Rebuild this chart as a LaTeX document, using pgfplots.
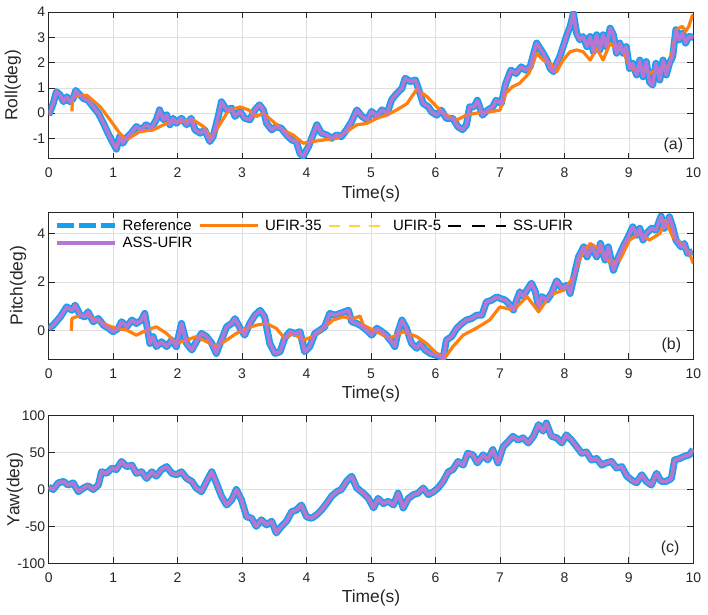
\documentclass[border=0pt]{standalone}
\usepackage{fontspec}
\setmainfont{Liberation Sans}
\usepackage{pgfplots}
\usepackage{pgfplotstable}
\pgfplotsset{compat=1.18}

\definecolor{refblue}{RGB}{22,160,240}
\definecolor{ufirorange}{RGB}{255,128,14}
\definecolor{ufiryellow}{RGB}{255,215,60}
\definecolor{asspurple}{RGB}{182,118,212}
\definecolor{axgray}{RGB}{38,38,38}
\definecolor{gridgray}{RGB}{223,223,223}

% ---------- Roll ----------
\pgfplotstableread{
t v
0 -0.07
0.07 0.38
0.12 0.85
0.18 0.71
0.23 0.45
0.28 0.65
0.33 0.45
0.38 0.58
0.42 0.9
0.46 0.78
0.54 0.58
0.61 0.51
0.69 0.25
0.77 0
0.85 -0.4
0.92 -0.79
1.0 -1.19
1.05 -1.42
1.1 -0.93
1.15 -1.19
1.2 -0.99
1.28 -0.79
1.36 -0.53
1.44 -0.66
1.51 -0.46
1.59 -0.6
1.67 -0.26
1.72 0.13
1.78 -0.26
1.83 -0.07
1.88 -0.46
1.93 -0.2
1.98 -0.4
2.06 -0.2
2.14 -0.46
2.21 -0.2
2.27 -0.66
2.35 -0.79
2.42 -0.66
2.5 -1.12
2.55 -0.93
2.63 -0.13
2.68 0.45
2.76 0.13
2.84 0.2
2.89 -0.13
2.97 0.07
3.04 -0.2
3.12 -0.26
3.2 0.13
3.27 0.33
3.33 0.13
3.38 -0.4
3.46 -0.66
3.53 -0.53
3.61 -0.6
3.69 -0.86
3.77 -1.06
3.84 -1.12
3.9 -1.6
3.95 -1.7
4.03 -1.32
4.1 -0.86
4.16 -0.46
4.23 -0.79
4.31 -0.86
4.39 -0.99
4.47 -0.86
4.54 -0.93
4.62 -0.66
4.7 -0.33
4.78 0.13
4.86 -0.13
4.94 -0.26
5.01 0.07
5.09 -0.13
5.17 0.13
5.25 0
5.32 0.53
5.4 0.78
5.48 0.98
5.53 1.38
5.61 1.25
5.69 1.31
5.76 0.78
5.81 0.38
5.89 0.25
5.94 0.05
6.02 -0.08
6.09 0.12
6.17 -0.21
6.27 -0.21
6.35 -0.54
6.42 -0.65
6.48 -0.47
6.53 0.25
6.6 0.25
6.65 0.51
6.73 -0.08
6.81 0.12
6.89 0.25
6.94 0.51
7.02 0.38
7.09 1.17
7.17 1.7
7.25 1.57
7.33 1.83
7.4 1.7
7.47 1.84
7.53 2.42
7.57 2.77
7.62 2.57
7.67 2.37
7.73 2.1
7.78 1.77
7.83 1.64
7.88 1.97
7.93 2.24
7.98 2.63
8.04 3.1
8.09 3.43
8.14 3.95
8.19 3.16
8.24 2.9
8.29 3.03
8.35 2.63
8.4 3.03
8.45 2.43
8.5 3.1
8.55 2.5
8.6 3.1
8.65 2.63
8.71 3.36
8.76 3.1
8.81 2.37
8.86 2.77
8.91 2.37
8.96 2.63
9.01 1.77
9.06 1.97
9.12 1.51
9.17 2.1
9.22 1.44
9.27 2.04
9.32 1.24
9.37 1.11
9.42 1.97
9.48 1.31
9.53 2.1
9.58 1.51
9.63 1.97
9.68 2.24
9.73 3.3
9.78 2.9
9.83 3.16
9.88 2.77
9.93 3.03
10 3.0
}\rollref

\pgfplotstableread{
t v
0.36 0.07
0.37 0.65
0.59 0.71
0.8 0.25
0.95 -0.26
1.1 -0.79
1.2 -1.06
1.41 -0.73
1.62 -0.66
1.83 -0.4
2.03 -0.33
2.24 -0.26
2.4 -0.53
2.52 -0.99
2.65 -0.46
2.78 0.07
2.91 0.2
2.97 0.25
3.1 0.13
3.22 -0.13
3.33 0
3.48 -0.33
3.63 -0.66
3.79 -0.86
3.95 -1.19
4.1 -1.12
4.26 -1.06
4.47 -0.99
4.62 -0.73
4.78 -0.46
4.94 -0.4
5.09 -0.2
5.25 -0.07
5.4 0.13
5.56 0.38
5.71 0.95
5.87 0.65
6.02 0.25
6.17 -0.08
6.32 -0.28
6.48 -0.08
6.63 0
6.84 0.05
7.0 0.12
7.09 0.78
7.19 1.04
7.3 1.17
7.45 1.57
7.57 2.37
7.67 2.1
7.78 1.97
7.88 1.64
7.98 2.1
8.09 2.43
8.19 2.5
8.29 2.43
8.4 2.1
8.5 2.57
8.6 2.1
8.71 2.77
8.81 2.5
8.91 2.5
9.01 1.84
9.12 1.64
9.22 1.77
9.32 1.57
9.42 1.7
9.53 1.77
9.63 1.9
9.68 2.5
9.73 3.3
9.83 3.43
9.88 3.23
9.93 3.43
9.98 3.82
10 3.9
}\rollfir

% ---------- Pitch ----------
\pgfplotstableread{
t v
0 0.1
0.07 0.23
0.18 0.57
0.28 0.98
0.36 0.84
0.41 1.05
0.49 0.64
0.56 0.57
0.61 0.78
0.69 0.37
0.77 0.5
0.85 0.23
0.93 0.1
1.0 -0.04
1.08 0.1
1.13 0.37
1.21 0.16
1.29 0.44
1.36 0.3
1.44 0.44
1.49 0.71
1.57 -0.52
1.62 -0.24
1.67 -0.65
1.75 -0.45
1.83 -0.65
1.91 -0.38
1.98 -0.65
2.06 0.3
2.14 -0.52
2.22 -0.79
2.29 -0.45
2.37 -0.11
2.45 -0.24
2.53 -0.52
2.6 -0.93
2.68 -0.38
2.76 0.16
2.84 0.3
2.89 0.5
2.97 0.1
3.04 -0.18
3.12 0.3
3.2 0.64
3.28 0.84
3.35 0.57
3.43 -0.52
3.51 -0.93
3.59 -0.86
3.66 -0.31
3.74 -0.04
3.82 -0.11
3.9 -0.04
3.97 -0.86
4.05 -0.65
4.13 -0.11
4.21 0.03
4.28 0.16
4.36 0.71
4.44 0.64
4.52 0.71
4.59 0.78
4.65 0.84
4.7 0.37
4.78 0.3
4.85 0.2
4.93 0.03
5.01 -0.18
5.09 0.1
5.17 -0.04
5.24 -0.18
5.32 -0.45
5.37 -0.65
5.42 -0.04
5.48 0.44
5.55 0.1
5.63 -0.52
5.71 -0.72
5.76 -0.52
5.84 -0.79
5.92 -0.93
5.99 -0.99
6.07 -1.06
6.12 -1.13
6.17 -0.38
6.25 -0.24
6.33 0.1
6.41 0.3
6.48 0.44
6.56 0.5
6.64 0.64
6.72 0.64
6.79 1.18
6.87 1.25
6.95 1.39
7.0 1.33
7.08 1.26
7.16 1.05
7.21 0.85
7.26 1.26
7.31 1.6
7.36 1.4
7.42 1.67
7.49 1.95
7.55 1.6
7.6 0.98
7.65 1.4
7.73 1.26
7.8 1.53
7.88 2.05
7.96 1.74
8.04 1.87
8.09 1.53
8.17 2.48
8.22 3.03
8.3 3.44
8.35 3.03
8.43 3.44
8.5 3.03
8.56 3.58
8.63 2.9
8.68 3.44
8.76 2.48
8.84 3.03
8.91 3.44
8.99 3.85
9.06 4.26
9.12 3.92
9.17 4.2
9.22 3.72
9.27 3.99
9.35 4.2
9.42 4.13
9.5 4.7
9.55 4.2
9.63 4.67
9.68 4.26
9.73 3.72
9.81 3.44
9.86 3.58
9.91 3.17
9.99 3.24
}\pitchref

\pgfplotstableread{
t v
0.35 0
0.36 0.5
0.49 0.64
0.59 0.64
0.74 0.44
0.9 0.23
1.05 0.1
1.21 0.03
1.36 -0.18
1.52 0.03
1.67 0.16
1.83 -0.11
1.98 -0.52
2.14 -0.38
2.29 -0.24
2.45 -0.45
2.6 -0.65
2.76 -0.38
2.91 -0.11
3.07 0.1
3.22 0.23
3.38 0.3
3.53 0.1
3.66 -0.31
3.79 -0.11
3.95 -0.38
4.1 -0.24
4.26 0.1
4.41 0.44
4.57 0.57
4.72 0.5
4.83 0.6
4.88 0.23
5.09 -0.04
5.29 -0.31
5.5 -0.04
5.71 -0.24
5.86 -0.52
6.02 -0.93
6.14 -1.13
6.27 -0.65
6.43 -0.18
6.63 0.1
6.84 0.44
7.0 0.98
7.21 0.85
7.42 1.4
7.6 0.78
7.78 1.47
7.99 1.67
8.14 2.2
8.25 3.03
8.4 3.58
8.56 3.3
8.71 2.76
8.86 2.9
9.01 3.72
9.17 3.99
9.32 3.72
9.48 3.99
9.57 4.54
9.68 3.85
9.81 3.58
9.94 3.17
10 2.76
}\pitchfir

% ---------- Yaw ----------
\pgfplotstableread{
t v
0 3
0.07 0
0.15 9
0.23 11
0.3 6
0.38 9
0.46 -3
0.54 2
0.61 5
0.69 0
0.77 6
0.82 24
0.9 22
0.98 29
1.05 27
1.13 38
1.21 31
1.29 33
1.36 22
1.44 24
1.52 15
1.6 24
1.67 18
1.75 27
1.83 31
1.91 22
1.98 20
2.06 24
2.14 15
2.22 11
2.29 2
2.37 -3
2.45 11
2.53 24
2.6 9
2.68 -9
2.76 -21
2.84 -14
2.91 0
2.99 -14
3.07 -37
3.15 -39
3.22 -50
3.3 -41
3.38 -48
3.46 -43
3.53 -59
3.61 -50
3.69 -43
3.77 -30
3.84 -28
3.92 -21
4.0 -37
4.08 -39
4.16 -34
4.23 -28
4.31 -19
4.39 -9
4.47 -3
4.54 0
4.62 11
4.7 18
4.78 2
4.88 -5
4.96 -12
5.04 -25
5.11 -12
5.19 -19
5.27 -16
5.35 -21
5.42 -5
5.5 -25
5.58 -12
5.66 -7
5.73 -5
5.81 2
5.89 -7
5.97 -3
6.04 2
6.12 11
6.2 24
6.27 27
6.35 38
6.43 33
6.5 49
6.58 47
6.65 36
6.74 47
6.81 40
6.89 54
6.97 36
7.05 58
7.13 65
7.2 72
7.28 67
7.36 70
7.44 63
7.52 72
7.6 88
7.67 79
7.72 90
7.8 72
7.88 70
7.96 63
8.03 74
8.11 67
8.19 58
8.27 49
8.34 51
8.42 40
8.5 42
8.58 33
8.65 36
8.73 38
8.81 29
8.89 31
8.97 18
9.04 13
9.12 9
9.2 20
9.27 11
9.35 6
9.43 22
9.5 11
9.58 11
9.66 15
9.71 40
9.79 42
9.86 45
9.94 47
10 54
}\yawref

\pgfplotsset{
  panel/.style={
    scale only axis, width=644.6bp,
    xmin=0, xmax=10, xtick={0,...,10},
    grid=major, major grid style={gridgray, line width=0.6bp},
    axis line style={axgray, line width=0.7bp},
    every tick/.style={axgray, line width=0.7bp},
    tick align=inside, tick pos=both, major tick length=6bp,
    ticklabel style={font=\fontsize{14}{14}\selectfont, text=axgray},
    xticklabel style={anchor=center, yshift=-14bp},
    /pgf/number format/assume math mode=true,
    label style={font=\fontsize{17.5}{17.5}\selectfont, text=axgray},
    xlabel={Time(s)},
    xlabel style={at={(axis description cs:0.5,0)}, anchor=center, yshift=-35bp},
    legend image code/.code={\draw[#1] (0bp,0bp) -- (58bp,0bp);},
  },
  refline/.style={refblue, line width=7bp, line join=round},
  firline/.style={ufirorange, line width=3.2bp, line join=round},
  fiveline/.style={ufiryellow, line width=2bp, line join=round},
  ssline/.style={black, line width=2bp, line join=round},
  assline/.style={asspurple, line width=3.5bp, line join=round},
}

\begin{document}
\begin{tikzpicture}
\path[use as bounding box] (0bp,0bp) rectangle (708bp,615bp);

% (a) roll
\begin{axis}[panel, at={(48.7bp,456.3bp)}, anchor=south west, height=146.7bp,
  ymin=-1.8, ymax=4, ytick={-1,0,...,4},
  ylabel={Roll(deg)}, ylabel style={at={(axis description cs:-0.0554,0.5)}, anchor=center}]
  \addplot[refline] table[x=t,y=v] {\rollref};
  \addplot[firline] table[x=t,y=v] {\rollfir};
  \addplot[fiveline] table[x=t,y=v] {\rollref};
  \addplot[ssline] table[x=t,y=v] {\rollref};
  \addplot[assline] table[x=t,y=v] {\rollref};
  \node[font=\fontsize{16}{16}\selectfont, text=axgray] at (rel axis cs:0.969,0.093) {(a)};
\end{axis}

% (b) pitch
\begin{axis}[panel, at={(48.7bp,255.7bp)}, anchor=south west, height=147.3bp,
  ymin=-1.17, ymax=4.87, ytick={0,2,4},
  ylabel={Pitch(deg)}, ylabel style={at={(axis description cs:-0.0476,0.5)}, anchor=center},
  legend columns=4, legend cell align=left,
  legend style={draw=none, fill=none, at={(axis description cs:0,1)}, anchor=north west,
    font=\fontsize{15}{15}\selectfont, inner xsep=5.3bp, inner ysep=5.5bp, row sep=1.3bp,
    /tikz/every odd column/.append style={column sep=3.5bp},
    /tikz/every even column/.append style={column sep=4bp}}]
  \addplot[refline, legend image code/.code={\draw[refblue, line width=5bp, dash pattern=on 17bp off 5bp] (0bp,0bp) -- (58bp,0bp);}] table[x=t,y=v] {\pitchref};
  \addlegendentry{Reference}
  \addplot[firline] table[x=t,y=v] {\pitchfir};
  \addlegendentry{UFIR-35}
  \addplot[fiveline, legend image code/.code={\draw[ufiryellow, line width=2bp, dash pattern=on 11bp off 9bp] (0bp,0bp) -- (58bp,0bp);}] table[x=t,y=v] {\pitchref};
  \addlegendentry{UFIR-5}
  \addplot[ssline, legend image code/.code={\draw[black, line width=2.5bp, dash pattern=on 13bp off 11bp] (0bp,0bp) -- (58bp,0bp);}] table[x=t,y=v] {\pitchref};
  \addlegendentry{SS-UFIR}
  \addplot[assline] table[x=t,y=v] {\pitchref};
  \addlegendentry{ASS-UFIR}
  \node[font=\fontsize{16}{16}\selectfont, text=axgray] at (rel axis cs:0.966,0.095) {(b)};
\end{axis}

% (c) yaw
\begin{axis}[panel, at={(48.7bp,51.7bp)}, anchor=south west, height=147.6bp,
  ymin=-100, ymax=100, ytick={-100,-50,...,100},
  ylabel={Yaw(deg)}, ylabel style={at={(axis description cs:-0.0523,0.5)}, anchor=center}]
  \addplot[refline] table[x=t,y=v] {\yawref};
  \addplot[firline] table[x=t,y=v] {\yawref};
  \addplot[fiveline] table[x=t,y=v] {\yawref};
  \addplot[ssline] table[x=t,y=v] {\yawref};
  \addplot[assline] table[x=t,y=v] {\yawref};
  \node[font=\fontsize{16}{16}\selectfont, text=axgray] at (rel axis cs:0.964,0.10) {(c)};
\end{axis}
\end{tikzpicture}
\end{document}
